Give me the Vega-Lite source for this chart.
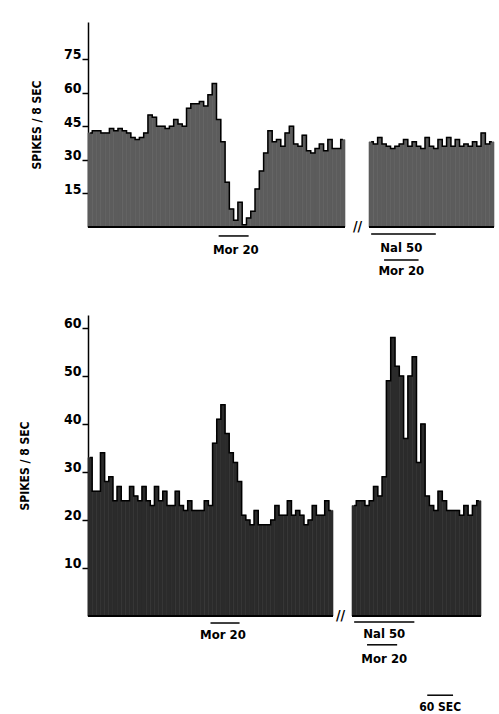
{
  "$schema": "https://vega.github.io/schema/vega-lite/v6.json",
  "background": "white",
  "padding": {"left": 18, "top": 22, "right": 0, "bottom": 0},
  "config": {
    "view": {"stroke": null},
    "font": "Liberation Sans Narrow, DejaVu Sans Condensed, Liberation Sans, sans-serif",
    "axis": {"labelColor": "black", "titleColor": "black", "domainColor": "black", "tickColor": "black", "labelFontWeight": "bold", "titleFontWeight": "bold", "grid": false}
  },
  "datasets": {
    "topL": [
      {"i":0,"v":42},{"i":1,"v":43},{"i":2,"v":43},{"i":3,"v":42},{"i":4,"v":42},{"i":5,"v":44},{"i":6,"v":43},{"i":7,"v":44},{"i":8,"v":43},{"i":9,"v":42},
      {"i":10,"v":40},{"i":11,"v":39},{"i":12,"v":40},{"i":13,"v":42},{"i":14,"v":50},{"i":15,"v":49},{"i":16,"v":45},{"i":17,"v":45},{"i":18,"v":44},{"i":19,"v":45},
      {"i":20,"v":48},{"i":21,"v":46},{"i":22,"v":45},{"i":23,"v":53},{"i":24,"v":55},{"i":25,"v":55},{"i":26,"v":56},{"i":27,"v":54},{"i":28,"v":59},{"i":29,"v":64},
      {"i":30,"v":48},{"i":31,"v":38},{"i":32,"v":20},{"i":33,"v":8},{"i":34,"v":3},{"i":35,"v":11},{"i":36,"v":1},{"i":37,"v":4},{"i":38,"v":7},{"i":39,"v":17},
      {"i":40,"v":25},{"i":41,"v":33},{"i":42,"v":43},{"i":43,"v":38},{"i":44,"v":39},{"i":45,"v":36},{"i":46,"v":42},{"i":47,"v":45},{"i":48,"v":37},{"i":49,"v":36},
      {"i":50,"v":41},{"i":51,"v":34},{"i":52,"v":33},{"i":53,"v":35},{"i":54,"v":37},{"i":55,"v":34},{"i":56,"v":39},{"i":57,"v":35},{"i":58,"v":35},{"i":59,"v":39}
    ],
    "topR": [
      {"i":0,"v":38},{"i":1,"v":37},{"i":2,"v":40},{"i":3,"v":37},{"i":4,"v":36},{"i":5,"v":35},{"i":6,"v":36},{"i":7,"v":37},{"i":8,"v":39},{"i":9,"v":36},
      {"i":10,"v":38},{"i":11,"v":36},{"i":12,"v":35},{"i":13,"v":40},{"i":14,"v":36},{"i":15,"v":35},{"i":16,"v":39},{"i":17,"v":36},{"i":18,"v":40},{"i":19,"v":36},
      {"i":20,"v":39},{"i":21,"v":36},{"i":22,"v":37},{"i":23,"v":36},{"i":24,"v":38},{"i":25,"v":36},{"i":26,"v":42},{"i":27,"v":37},{"i":28,"v":38}
    ],
    "botL": [
      {"i":0,"v":33},{"i":1,"v":26},{"i":2,"v":26},{"i":3,"v":34},{"i":4,"v":28},{"i":5,"v":29},{"i":6,"v":24},{"i":7,"v":27},{"i":8,"v":24},{"i":9,"v":24},
      {"i":10,"v":27},{"i":11,"v":25},{"i":12,"v":24},{"i":13,"v":27},{"i":14,"v":24},{"i":15,"v":23},{"i":16,"v":27},{"i":17,"v":24},{"i":18,"v":26},{"i":19,"v":23},
      {"i":20,"v":23},{"i":21,"v":26},{"i":22,"v":23},{"i":23,"v":22},{"i":24,"v":24},{"i":25,"v":22},{"i":26,"v":22},{"i":27,"v":22},{"i":28,"v":24},{"i":29,"v":23},
      {"i":30,"v":36},{"i":31,"v":41},{"i":32,"v":44},{"i":33,"v":38},{"i":34,"v":34},{"i":35,"v":32},{"i":36,"v":28},{"i":37,"v":21},{"i":38,"v":20},{"i":39,"v":19},
      {"i":40,"v":22},{"i":41,"v":19},{"i":42,"v":19},{"i":43,"v":19},{"i":44,"v":20},{"i":45,"v":23},{"i":46,"v":21},{"i":47,"v":21},{"i":48,"v":24},{"i":49,"v":21},
      {"i":50,"v":22},{"i":51,"v":21},{"i":52,"v":19},{"i":53,"v":20},{"i":54,"v":23},{"i":55,"v":21},{"i":56,"v":21},{"i":57,"v":24},{"i":58,"v":22}
    ],
    "botR": [
      {"i":0,"v":23},{"i":1,"v":24},{"i":2,"v":24},{"i":3,"v":23},{"i":4,"v":24},{"i":5,"v":27},{"i":6,"v":25},{"i":7,"v":29},{"i":8,"v":49},{"i":9,"v":58},
      {"i":10,"v":52},{"i":11,"v":50},{"i":12,"v":37},{"i":13,"v":50},{"i":14,"v":54},{"i":15,"v":32},{"i":16,"v":40},{"i":17,"v":25},{"i":18,"v":23},{"i":19,"v":22},
      {"i":20,"v":26},{"i":21,"v":24},{"i":22,"v":22},{"i":23,"v":22},{"i":24,"v":22},{"i":25,"v":21},{"i":26,"v":23},{"i":27,"v":21},{"i":28,"v":23},{"i":29,"v":24}
    ],
    "annTL": [{"a":30,"b":37,"y":-4}],
    "txtTL": [{"i":34,"y":-10.3,"t":"Mor 20"}],
    "annTR": [{"a":0,"b":15,"y":-3.1},{"a":3,"b":11,"y":-14.7}],
    "txtTR": [{"i":7,"y":-9.4,"t":"Nal 50"},{"i":7,"y":-19.6,"t":"Mor 20"}],
    "annBL": [{"a":29,"b":36,"y":-1.46}],
    "txtBL": [{"i":32,"y":-3.96,"t":"Mor 20"}],
    "annBR": [{"a":0,"b":14,"y":-1.25},{"a":3,"b":10,"y":-6},{"a":17,"b":23,"y":-16.5}],
    "txtBR": [{"i":7,"y":-3.75,"t":"Nal 50","s":13},{"i":7,"y":-9,"t":"Mor 20","s":13},{"i":20,"y":-19,"t":"60 SEC","s":12}],
    "brk": [{"i":0,"t":"//"}]
  },
  "spacing": 37,
  "vconcat": [
    {
      "spacing": 6,
      "hconcat": [
        {
          "width": 257, "height": 205,
          "layer": [
            {"data": {"name": "topL"}, "mark": {"type": "bar", "color": "#5c5c5c", "stroke": "#5c5c5c", "strokeWidth": 0.6},
             "encoding": {
               "x": {"field": "i", "type": "ordinal", "axis": null, "scale": {"paddingInner": 0, "paddingOuter": 0}},
               "y": {"field": "v", "type": "quantitative", "scale": {"domain": [0, 91.5], "nice": false},
                     "axis": {"values": [15, 30, 45, 60, 75], "title": "SPIKES / 8 SEC", "tickSize": 6, "tickWidth": 1.5, "domainWidth": 1.5, "labelPadding": 1, "labelFontSize": 14, "labelBaseline": "alphabetic", "titleFontSize": 12, "titlePadding": 20}}
             }},
            {"data": {"name": "topL"}, "mark": {"type": "line", "interpolate": "step", "color": "black", "strokeWidth": 1.5},
             "encoding": {"x": {"field": "i", "type": "ordinal"}, "y": {"field": "v", "type": "quantitative"}}},
            {"data": {"values": [{}]}, "mark": {"type": "rule", "color": "black", "strokeWidth": 2}, "encoding": {"y": {"datum": 0}}},
            {"data": {"name": "annTL"}, "mark": {"type": "rule", "color": "black", "strokeWidth": 1.5},
             "encoding": {"x": {"field": "a", "type": "ordinal"}, "x2": {"field": "b"}, "y": {"field": "y", "type": "quantitative"}}},
            {"data": {"name": "txtTL"}, "mark": {"type": "text", "fontWeight": "bold", "fontSize": 13, "baseline": "middle"},
             "encoding": {"x": {"field": "i", "type": "ordinal"}, "y": {"field": "y", "type": "quantitative"}, "text": {"field": "t"}}}
          ]
        },
        {
          "width": 125, "height": 205,
          "layer": [
            {"data": {"name": "topR"}, "mark": {"type": "bar", "color": "#5c5c5c", "stroke": "#5c5c5c", "strokeWidth": 0.6},
             "encoding": {
               "x": {"field": "i", "type": "ordinal", "axis": null, "scale": {"paddingInner": 0, "paddingOuter": 0}},
               "y": {"field": "v", "type": "quantitative", "scale": {"domain": [0, 91.5], "nice": false}, "axis": null}
             }},
            {"data": {"name": "topR"}, "mark": {"type": "line", "interpolate": "step", "color": "black", "strokeWidth": 1.5},
             "encoding": {"x": {"field": "i", "type": "ordinal"}, "y": {"field": "v", "type": "quantitative"}}},
            {"data": {"values": [{}]}, "mark": {"type": "rule", "color": "black", "strokeWidth": 2}, "encoding": {"y": {"datum": 0}}},
            {"data": {"name": "brk"}, "mark": {"type": "text", "fontWeight": "bold", "fontSize": 14, "align": "right", "baseline": "middle", "dx": -9},
             "encoding": {"x": {"field": "i", "type": "ordinal"}, "y": {"datum": 0}, "text": {"field": "t"}}},
            {"data": {"name": "annTR"}, "mark": {"type": "rule", "color": "black", "strokeWidth": 1.5},
             "encoding": {"x": {"field": "a", "type": "ordinal"}, "x2": {"field": "b"}, "y": {"field": "y", "type": "quantitative"}}},
            {"data": {"name": "txtTR"}, "mark": {"type": "text", "fontWeight": "bold", "fontSize": 13, "baseline": "middle"},
             "encoding": {"x": {"field": "i", "type": "ordinal"}, "y": {"field": "y", "type": "quantitative"}, "text": {"field": "t"}}}
          ]
        }
      ]
    },
    {
      "spacing": 1,
      "hconcat": [
        {
          "width": 245, "height": 301,
          "layer": [
            {"data": {"name": "botL"}, "mark": {"type": "bar", "color": "#2b2b2b", "stroke": "#2b2b2b", "strokeWidth": 0.6},
             "encoding": {
               "x": {"field": "i", "type": "ordinal", "axis": null, "scale": {"paddingInner": 0, "paddingOuter": 0}},
               "y": {"field": "v", "type": "quantitative", "scale": {"domain": [0, 62.7], "nice": false},
                     "axis": {"values": [10, 20, 30, 40, 50, 60], "title": "SPIKES / 8 SEC", "tickSize": 6, "tickWidth": 1.5, "domainWidth": 1.5, "labelPadding": 1, "labelFontSize": 14, "labelBaseline": "alphabetic", "titleFontSize": 12, "titlePadding": 32}}
             }},
            {"data": {"name": "botL"}, "mark": {"type": "line", "interpolate": "step", "color": "black", "strokeWidth": 1.5},
             "encoding": {"x": {"field": "i", "type": "ordinal"}, "y": {"field": "v", "type": "quantitative"}}},
            {"data": {"values": [{}]}, "mark": {"type": "rule", "color": "black", "strokeWidth": 2}, "encoding": {"y": {"datum": 0}}},
            {"data": {"name": "annBL"}, "mark": {"type": "rule", "color": "black", "strokeWidth": 1.5},
             "encoding": {"x": {"field": "a", "type": "ordinal"}, "x2": {"field": "b"}, "y": {"field": "y", "type": "quantitative"}}},
            {"data": {"name": "txtBL"}, "mark": {"type": "text", "fontWeight": "bold", "fontSize": 13, "baseline": "middle"},
             "encoding": {"x": {"field": "i", "type": "ordinal"}, "y": {"field": "y", "type": "quantitative"}, "text": {"field": "t"}}}
          ]
        },
        {
          "width": 129, "height": 301,
          "layer": [
            {"data": {"name": "botR"}, "mark": {"type": "bar", "color": "#2b2b2b", "stroke": "#2b2b2b", "strokeWidth": 0.6},
             "encoding": {
               "x": {"field": "i", "type": "ordinal", "axis": null, "scale": {"paddingInner": 0, "paddingOuter": 0}},
               "y": {"field": "v", "type": "quantitative", "scale": {"domain": [0, 62.7], "nice": false}, "axis": null}
             }},
            {"data": {"name": "botR"}, "mark": {"type": "line", "interpolate": "step", "color": "black", "strokeWidth": 1.5},
             "encoding": {"x": {"field": "i", "type": "ordinal"}, "y": {"field": "v", "type": "quantitative"}}},
            {"data": {"values": [{}]}, "mark": {"type": "rule", "color": "black", "strokeWidth": 2}, "encoding": {"y": {"datum": 0}}},
            {"data": {"name": "brk"}, "mark": {"type": "text", "fontWeight": "bold", "fontSize": 14, "align": "right", "baseline": "middle", "dx": -9},
             "encoding": {"x": {"field": "i", "type": "ordinal"}, "y": {"datum": 0}, "text": {"field": "t"}}},
            {"data": {"name": "annBR"}, "mark": {"type": "rule", "color": "black", "strokeWidth": 1.5},
             "encoding": {"x": {"field": "a", "type": "ordinal"}, "x2": {"field": "b"}, "y": {"field": "y", "type": "quantitative"}}},
            {"data": {"name": "txtBR"}, "mark": {"type": "text", "fontWeight": "bold", "baseline": "middle"},
             "encoding": {"x": {"field": "i", "type": "ordinal"}, "y": {"field": "y", "type": "quantitative"}, "text": {"field": "t"}, "size": {"field": "s", "type": "quantitative", "scale": null}}}
          ]
        }
      ]
    }
  ]
}
